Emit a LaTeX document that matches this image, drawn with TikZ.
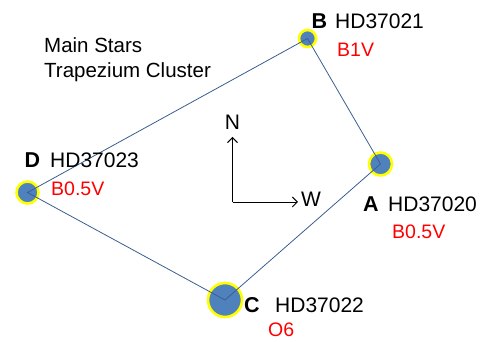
\documentclass[tikz,border=0pt]{standalone}
\usepackage{fontspec}
\setmainfont{Liberation Sans}
\usetikzlibrary{arrows.meta}
\definecolor{starblue}{HTML}{4F81BD}
\definecolor{edgeblue}{HTML}{3A5F8F}
\definecolor{ringyellow}{HTML}{FFFF00}
\begin{document}
\begin{tikzpicture}[x=1pt,y=-1pt,
  star/.style={circle,fill=starblue,draw=ringyellow,line width=2.6pt,inner sep=0pt,minimum size=#1},
  edge/.style={draw=edgeblue,line width=0.8pt},
  lbl/.style={anchor=base west,inner sep=0pt,font=\fontsize{21}{24}\selectfont},
  title/.style={anchor=base west,inner sep=0pt,font=\fontsize{20.5}{24}\selectfont},
  letter/.style={anchor=base west,inner sep=0pt,font=\fontsize{21.5}{24}\selectfont\bfseries},
  sptype/.style={anchor=base west,inner sep=0pt,text=red,font=\fontsize{19.5}{22}\selectfont},
  compass/.style={line width=0.9pt,-{Straight Barb[length=5pt,width=10pt]}}]
\useasboundingbox (0,0) rectangle (491,342);

% stars
\node[star=17pt] (B) at (307.5,38.5) {};
\node[star=23pt] (A) at (380.5,164) {};
\node[star=34pt] (C) at (225,300) {};
\node[star=22pt] (D) at (27.5,192.5) {};

% trapezium outline
\draw[edge] (B.center) -- (A.center) -- (C.center) -- (D.center) -- (B.center);

% title
\node[title] (t1) at (44,52.5) {Main Stars};
\node[title] (t2) at (44,77.5) {Trapezium Cluster};

% star labels
\node[letter] (Bl) at (311.5,29) {B};
\node[lbl] (Bn) at (335,29) {HD37021};
\node[sptype] (Bs) at (337,57) {B1V};

\node[letter] (Dl) at (24.5,168) {D};
\node[lbl] (Dn) at (50,168) {HD37023};
\node[sptype] (Ds) at (51,196) {B0.5V};

\node[letter] (Al) at (363,212) {A};
\node[lbl] (An) at (388,212) {HD37020};
\node[sptype] (As) at (392,239) {B0.5V};

\node[letter] (Cl) at (244,313) {C};
\node[lbl] (Cn) at (275,313) {HD37022};
\node[sptype] (Cs) at (268,337) {O6};

% compass
\coordinate (o) at (232.5,202);
\coordinate (n) at (232.5,137);
\coordinate (w) at (298,202);
\draw[compass] (o) -- (n);
\draw[compass] (o) -- (w);
\node[lbl,anchor=base] (N) at (232.5,130) {N};
\node[lbl] (W) at (301,207) {W};
\end{tikzpicture}
\end{document}
